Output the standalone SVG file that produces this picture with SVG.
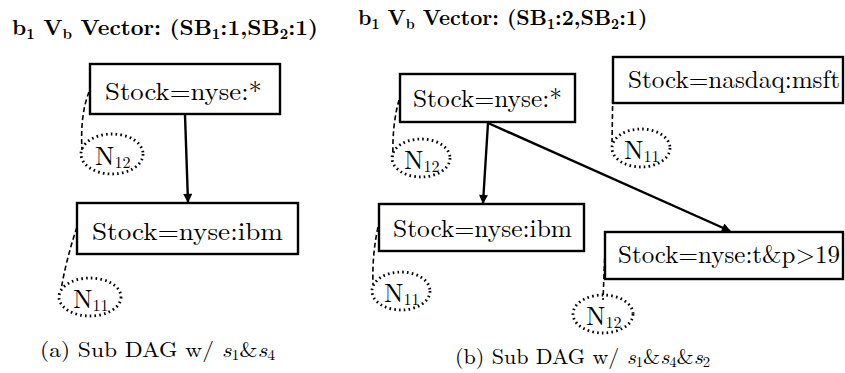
<svg xmlns="http://www.w3.org/2000/svg" width="845" height="373" viewBox="0 0 845 373">
<defs>
<marker id="ah" viewBox="0 0 10 10" refX="9" refY="5" markerWidth="10" markerHeight="9" markerUnits="userSpaceOnUse" orient="auto"><path d="M0,0 L10,5 L0,10 z" fill="#000"/></marker>
<style>
.box{fill:#fff;stroke:#000;stroke-width:2.4}
.lbl{font-family:"Latin Modern Roman","Liberation Serif",serif;font-size:25px;fill:#000}
.title{font-family:"Latin Modern Roman","Liberation Serif",serif;font-size:21px;font-weight:bold;fill:#000}
.sub{font-size:14px}
.ell{fill:none;stroke:#000;stroke-width:2.8;stroke-dasharray:1.6 3.2}
.dash{fill:none;stroke:#000;stroke-width:1.6;stroke-dasharray:5 3}
.nl{font-family:"Latin Modern Roman","Liberation Serif",serif;font-size:26px;fill:#000}
.ns{font-size:16px}
.edge{stroke:#000;stroke-width:2.4;fill:none;marker-end:url(#ah)}
.cap{font-family:"Latin Modern Roman","Liberation Serif",serif;font-size:21px;fill:#000}
.cs{font-size:14px}
</style>
</defs>

<text class="title" x="12" y="35" textLength="306" lengthAdjust="spacingAndGlyphs">b<tspan class="sub" dy="4">1</tspan><tspan dy="-4"> V</tspan><tspan class="sub" dy="4">b</tspan><tspan dy="-4"> Vector: (SB</tspan><tspan class="sub" dy="4">1</tspan><tspan dy="-4">:1,SB</tspan><tspan class="sub" dy="4">2</tspan><tspan dy="-4">:1)</tspan></text>
<text class="title" x="358" y="25" font-size="20">b<tspan class="sub" dy="4">1</tspan><tspan dy="-4"> V</tspan><tspan class="sub" dy="4">b</tspan><tspan dy="-4"> Vector: (SB</tspan><tspan class="sub" dy="4">1</tspan><tspan dy="-4">:2,SB</tspan><tspan class="sub" dy="4">2</tspan><tspan dy="-4">:1)</tspan></text>

<g id="connectors">
<line class="edge" x1="185" y1="115" x2="188" y2="202"/>
<line class="edge" x1="488" y1="123" x2="483" y2="203"/>
<line class="edge" x1="488" y1="123" x2="730" y2="231"/>
<path class="dash" d="M89,92 Q80,115 82,150"/>
<path class="dash" d="M77,227 Q66,260 61,290"/>
<path class="dash" d="M399,100 Q392,125 393,157"/>
<path class="dash" d="M378,227 Q372,255 373,284"/>
<path class="dash" d="M613,82 L612,142"/>
<path class="dash" d="M605,250 L603,300"/>
</g>

<g id="a_nyse_star">
<rect class="box" x="90" y="64" width="190" height="50"/>
<text class="lbl" x="105" y="100" textLength="157" lengthAdjust="spacingAndGlyphs">Stock=nyse:*</text>
</g>
<g id="a_N12">
<ellipse class="ell" cx="112" cy="154" rx="31" ry="20"/>
<text class="nl" x="95" y="165">N<tspan class="ns" dy="3">12</tspan></text>
</g>
<g id="a_nyse_ibm">
<rect class="box" x="77" y="203" width="221" height="51"/>
<text class="lbl" x="92" y="240" textLength="191" lengthAdjust="spacingAndGlyphs">Stock=nyse:ibm</text>
</g>
<g id="a_N11">
<ellipse class="ell" cx="90" cy="297" rx="31" ry="19"/>
<text class="nl" x="73" y="308">N<tspan class="ns" dy="3">11</tspan></text>
</g>

<g id="b_nyse_star">
<rect class="box" x="400" y="74" width="175" height="48"/>
<text class="lbl" x="413" y="107" textLength="149" lengthAdjust="spacingAndGlyphs">Stock=nyse:*</text>
</g>
<g id="b_N12a">
<ellipse class="ell" cx="421" cy="158" rx="29" ry="19"/>
<text class="nl" x="404" y="169">N<tspan class="ns" dy="3">12</tspan></text>
</g>
<g id="b_nyse_ibm">
<rect class="box" x="379" y="204" width="205" height="47"/>
<text class="lbl" x="393" y="237" textLength="179" lengthAdjust="spacingAndGlyphs">Stock=nyse:ibm</text>
</g>
<g id="b_N11a">
<ellipse class="ell" cx="401" cy="291" rx="29" ry="19"/>
<text class="nl" x="384" y="302">N<tspan class="ns" dy="3">11</tspan></text>
</g>
<g id="b_nasdaq">
<rect class="box" x="613" y="57" width="230" height="46"/>
<text class="lbl" x="628" y="88" textLength="212" lengthAdjust="spacingAndGlyphs">Stock=nasdaq:msft</text>
</g>
<g id="b_N11b">
<ellipse class="ell" cx="641" cy="148" rx="29" ry="19"/>
<text class="nl" x="624" y="159">N<tspan class="ns" dy="3">11</tspan></text>
</g>
<g id="b_tp">
<rect class="box" x="605" y="232" width="238" height="47"/>
<text class="lbl" x="618" y="263" textLength="222" lengthAdjust="spacingAndGlyphs">Stock=nyse:t&amp;p&gt;19</text>
</g>
<g id="b_N12b">
<ellipse class="ell" cx="603" cy="314" rx="30" ry="19"/>
<text class="nl" x="586" y="325">N<tspan class="ns" dy="3">12</tspan></text>
</g>

<text class="cap" x="40" y="357" textLength="235" lengthAdjust="spacingAndGlyphs">(a) Sub DAG w/ <tspan font-style="italic">s</tspan><tspan class="cs" dy="3">1</tspan><tspan dy="-3">&amp;</tspan><tspan font-style="italic">s</tspan><tspan class="cs" dy="3">4</tspan></text>
<text class="cap" x="455" y="364" textLength="255" lengthAdjust="spacingAndGlyphs">(b) Sub DAG w/ <tspan font-style="italic">s</tspan><tspan class="cs" dy="3">1</tspan><tspan dy="-3">&amp;</tspan><tspan font-style="italic">s</tspan><tspan class="cs" dy="3">4</tspan><tspan dy="-3">&amp;</tspan><tspan font-style="italic">s</tspan><tspan class="cs" dy="3">2</tspan></text>
</svg>
